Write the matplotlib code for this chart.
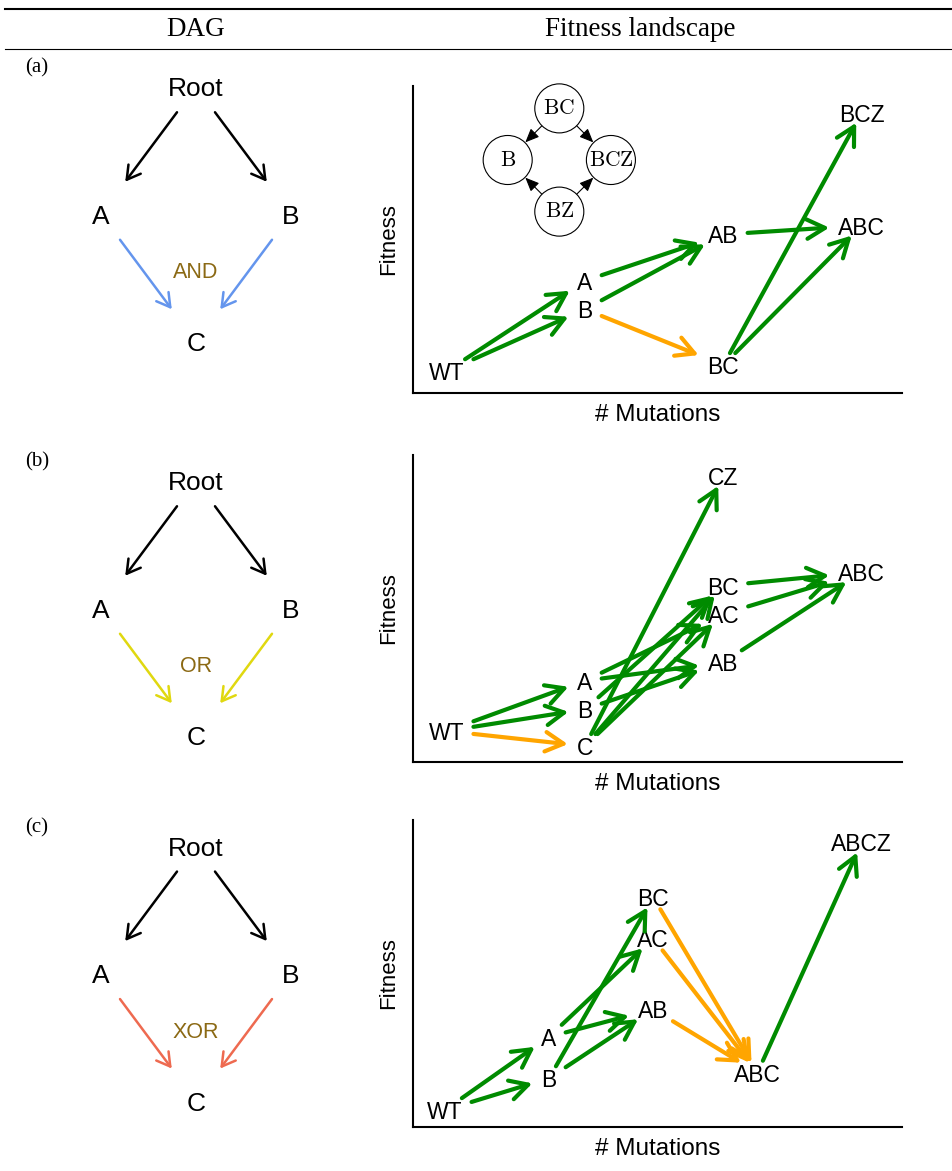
import numpy as np
import matplotlib
matplotlib.use('Agg')
import matplotlib.pyplot as plt
from matplotlib.lines import Line2D
from matplotlib.patches import Circle

plt.rcParams['font.family'] = ['Liberation Sans', 'DejaVu Sans']
plt.rcParams['mathtext.fontset'] = 'cm'

W, H = 952, 1171

# --- data ---
panel_labels = ['(a)', '(b)', '(c)']
dag_nodes = ['Root', 'A', 'B', 'C']
dag_x = [0.5, 0.0, 1.0, 0.5]
dag_y = [1.0, 0.5, 0.5, 0.0]
dag_edges = [('Root', 'A'), ('Root', 'B'), ('A', 'C'), ('B', 'C')]
dag_relations = ['AND', 'OR', 'XOR']
dag_rel_colors = ['#6495ED', '#E0D810', '#EE6A50']

# (a) AND
fa_genotypes = ['WT', 'A', 'B', 'AB', 'BC', 'ABC', 'BCZ']
fa_mutations = [0, 1, 1, 2, 2, 3, 3]
fa_fitness = [0.070, 0.365, 0.272, 0.516, 0.090, 0.545, 0.913]
fa_edges = [('WT', 'A'), ('WT', 'B'), ('A', 'AB'), ('B', 'AB'), ('B', 'BC'),
            ('AB', 'ABC'), ('BC', 'ABC'), ('BC', 'BCZ')]
fa_kinds = ['up', 'up', 'up', 'up', 'down', 'up', 'up', 'up']

# (b) OR
fb_genotypes = ['WT', 'A', 'B', 'C', 'AB', 'AC', 'BC', 'CZ', 'ABC']
fb_mutations = [0, 1, 1, 1, 2, 2, 2, 2, 3]
fb_fitness = [0.100, 0.264, 0.171, 0.051, 0.324, 0.482, 0.574, 0.932, 0.618]
fb_edges = [('WT', 'A'), ('WT', 'B'), ('WT', 'C'), ('A', 'AB'), ('A', 'AC'),
            ('B', 'AB'), ('B', 'BC'), ('C', 'AC'), ('C', 'BC'), ('C', 'CZ'),
            ('AB', 'ABC'), ('AC', 'ABC'), ('BC', 'ABC')]
fb_kinds = ['up', 'up', 'down', 'up', 'up', 'up', 'up', 'up', 'up', 'up',
            'up', 'up', 'up']

# (c) XOR
fc_genotypes = ['WT', 'A', 'B', 'AB', 'AC', 'BC', 'ABC', 'ABCZ']
fc_mutations = [0, 1, 1, 2, 2, 2, 3, 4]
fc_fitness = [0.054, 0.293, 0.158, 0.383, 0.614, 0.748, 0.176, 0.927]
fc_edges = [('WT', 'A'), ('WT', 'B'), ('A', 'AB'), ('A', 'AC'), ('B', 'AB'),
            ('B', 'BC'), ('AB', 'ABC'), ('AC', 'ABC'), ('BC', 'ABC'),
            ('ABC', 'ABCZ')]
fc_kinds = ['up', 'up', 'up', 'up', 'up', 'up', 'down', 'down', 'down', 'up']

edge_colors = {'up': '#008B00', 'down': '#FFA500'}

# inset graph in (a)
inset_nodes = ['BC', 'B', 'BCZ', 'BZ']
inset_x = [0, -1, 1, 0]
inset_y = [1, 0, 0, -1]
inset_edges = [('BC', 'B'), ('BC', 'BCZ'), ('BZ', 'B'), ('BZ', 'BCZ')]

fig = plt.figure(figsize=(W / 100, H / 100), dpi=100)


def px_axes(left, top, right, bottom):
    return fig.add_axes([left / W, 1 - bottom / H, (right - left) / W, (bottom - top) / H])


def clip(p, q, hw, hh):
    d = q - p
    t = min(hw / max(abs(d[0]), 1e-9), hh / max(abs(d[1]), 1e-9))
    return p + t * d


# header
fig.add_artist(Line2D([5 / W, 1], [1 - 8.5 / H] * 2, color='k', lw=1.5))
fig.add_artist(Line2D([5 / W, 1], [1 - 48.5 / H] * 2, color='k', lw=0.8))
fig.text(196 / W, 1 - 29 / H, 'DAG', family='Liberation Serif', fontsize=19.5,
         ha='center', va='center')
fig.text(640 / W, 1 - 29 / H, 'Fitness landscape', family='Liberation Serif',
         fontsize=19.5, ha='center', va='center')


def dag(ax, rel, col):
    ax.set_xlim(-0.3, 1.3)
    ax.set_ylim(-0.15, 1.15)
    ax.axis('off')
    pos = dict(zip(dag_nodes, zip(dag_x, dag_y)))
    for n in dag_nodes:
        ax.text(pos[n][0], pos[n][1], n, ha='center', va='center_baseline', fontsize=19)
    for a, b in dag_edges:
        p0 = np.array(pos[a])
        p1 = np.array(pos[b])
        c = 'k' if a == 'Root' else col
        ax.annotate('', xy=p0 + 0.745 * (p1 - p0), xytext=p0 + 0.2 * (p1 - p0),
                    arrowprops=dict(arrowstyle='->,head_length=0.95,head_width=0.55',
                                    mutation_scale=10, lw=1.8, color=c,
                                    shrinkA=0, shrinkB=0))
    ax.text(0.5, 0.28, rel, color='#8B6914', fontsize=15.5, ha='center',
            va='center_baseline')


def landscape(ax, genos, muts, fits, edges, kinds, xlim):
    ax.set_xlim(xlim)
    ax.set_ylim(0, 1)
    ax.set_xticks([])
    ax.set_yticks([])
    ax.spines['top'].set_visible(False)
    ax.spines['right'].set_visible(False)
    ax.spines['left'].set_linewidth(1.5)
    ax.spines['bottom'].set_linewidth(1.5)
    ax.set_xlabel('# Mutations', fontsize=17.5, labelpad=8)
    ax.set_ylabel('Fitness', fontsize=16, labelpad=10)
    pos = {g: (m, f) for g, m, f in zip(genos, muts, fits)}
    txt = {}
    for g in genos:
        txt[g] = ax.text(pos[g][0], pos[g][1], g, ha='center',
                         va='center_baseline', fontsize=16.5)
    r = fig.canvas.get_renderer()
    inv = ax.transData.inverted()
    for (a, b), k in zip(edges, kinds):
        pa = ax.transData.transform(pos[a])
        pb = ax.transData.transform(pos[b])
        wa = txt[a].get_window_extent(r).width / 2 + 9
        wb = txt[b].get_window_extent(r).width / 2 + 9
        s = clip(pa, pb, wa, 12)
        e = clip(pb, pa, wb, 10)
        ax.annotate('', xy=inv.transform(e), xytext=inv.transform(s),
                    arrowprops=dict(arrowstyle='->,head_length=1.3,head_width=0.7',
                                    mutation_scale=10, lw=3, color=edge_colors[k],
                                    shrinkA=0, shrinkB=0))


dag_offsets = [0, 394, 759.3]
label_y = [68, 462, 828]
for i in range(3):
    fig.text(37 / W, 1 - label_y[i] / H, panel_labels[i], family='Liberation Serif',
             fontsize=15, ha='center', va='center')
    axd = px_axes(44, 48.5 + dag_offsets[i], 348, 380 + dag_offsets[i])
    dag(axd, dag_relations[i], dag_rel_colors[i])

ax_a = px_axes(412.7, 86, 901.7, 392.7)
landscape(ax_a, fa_genotypes, fa_mutations, fa_fitness, fa_edges, fa_kinds,
          (-0.2458, 3.289))
ax_b = px_axes(412.7, 455, 901.7, 761.7)
landscape(ax_b, fb_genotypes, fb_mutations, fb_fitness, fb_edges, fb_kinds,
          (-0.2458, 3.289))
ax_c = px_axes(412.7, 820, 901.7, 1126.7)
landscape(ax_c, fc_genotypes, fc_mutations, fc_fitness, fc_edges, fc_kinds,
          (-0.308, 4.384))

# inset graph
ax_in = px_axes(479.3, 80, 639.3, 240)
ax_in.set_xlim(-1.55, 1.55)
ax_in.set_ylim(-1.55, 1.55)
ax_in.axis('off')
circles = {}
for n, x, y in zip(inset_nodes, inset_x, inset_y):
    c = Circle((x, y), 0.475, fc='white', ec='black', lw=0.8)
    ax_in.add_patch(c)
    circles[n] = c
    ax_in.text(x, y, r'$\mathrm{%s}$' % n, ha='center', va='center', fontsize=15.5)
for a, b in inset_edges:
    ia = inset_nodes.index(a)
    ib = inset_nodes.index(b)
    ax_in.annotate('', xy=(inset_x[ib], inset_y[ib]), xytext=(inset_x[ia], inset_y[ia]),
                   arrowprops=dict(arrowstyle='-|>,head_length=0.7,head_width=0.3',
                                   mutation_scale=12, lw=0.8, color='k',
                                   patchA=circles[a], patchB=circles[b],
                                   shrinkA=0, shrinkB=0))

fig.savefig('out.png', dpi=100)
